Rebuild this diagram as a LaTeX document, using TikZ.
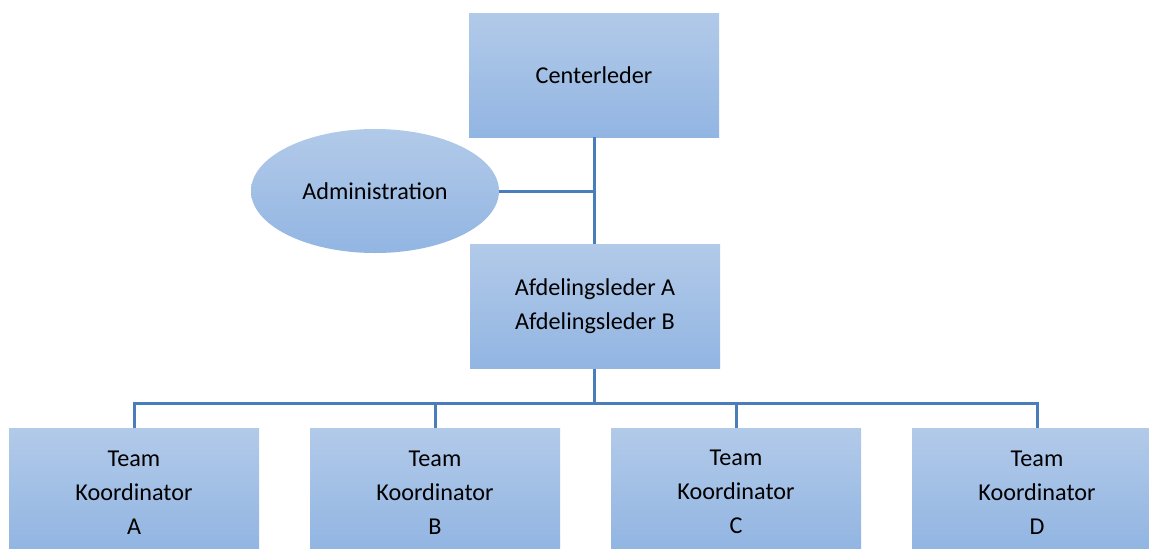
\documentclass[tikz,border=0pt]{standalone}
\usepackage{fontspec}
\setmainfont{Carlito}
\usepackage{tikz}
\usetikzlibrary{shapes.geometric,positioning,calc}

\definecolor{orgline}{RGB}{74,126,187}
\definecolor{orgtop}{RGB}{178,202,233}
\definecolor{orgbottom}{RGB}{146,181,226}

\begin{document}
\begin{tikzpicture}[
    x=1pt, y=-1pt,
    orgbox/.style={rectangle, minimum width=250pt, minimum height=124pt, inner sep=0pt,
        top color=orgtop, bottom color=orgbottom, align=center,
        font=\fontsize{24.2}{34}\selectfont},
    teambox/.style={orgbox, minimum height=120pt},
    orgoval/.style={ellipse, minimum width=248pt, minimum height=124pt, inner sep=0pt,
        top color=orgtop, bottom color=orgbottom,
        font=\fontsize{24.2}{34}\selectfont},
    orglink/.style={draw=orgline, line width=3pt}
]
\clip (0,0) rectangle (1149,549);
\fill[white] (0,0) rectangle (1149,549);

\node[orgbox] (centerleder) at (594,75) {Centerleder};
\node[orgoval] (admin) at (375,191) {Administration};
\node[orgbox] (afdeling) at (595,306.5) {Afdelingsleder A\\Afdelingsleder B};

\node[teambox] (teamA) at (134,488.5) {\rule{0pt}{23pt}Team\\Koordinator\\A};
\node[teambox] (teamB) at (435,488.5) {\rule{0pt}{23pt}Team\\Koordinator\\B};
\node[teambox] (teamC) at (736,488.5) {\rule{0pt}{23pt}Team\\Koordinator\\C};
\node[teambox] (teamD) at (1037,488.5) {\rule{0pt}{23pt}Team\\Koordinator\\D};

\coordinate (adminjoin) at (594,191);
\coordinate (bus) at (594,403);

% connectors
\draw[orglink] (centerleder.south) -- (centerleder.south |- afdeling.north);
\draw[orglink] (admin.east) -- (adminjoin);
\draw[orglink] (bus |- afdeling.south) -- (bus);
\draw[orglink] (teamA.north) |- (bus) -| (teamD.north);
\draw[orglink] (teamB.north) -- (teamB.north |- bus);
\draw[orglink] (teamC.north) -- (teamC.north |- bus);
\end{tikzpicture}
\end{document}
